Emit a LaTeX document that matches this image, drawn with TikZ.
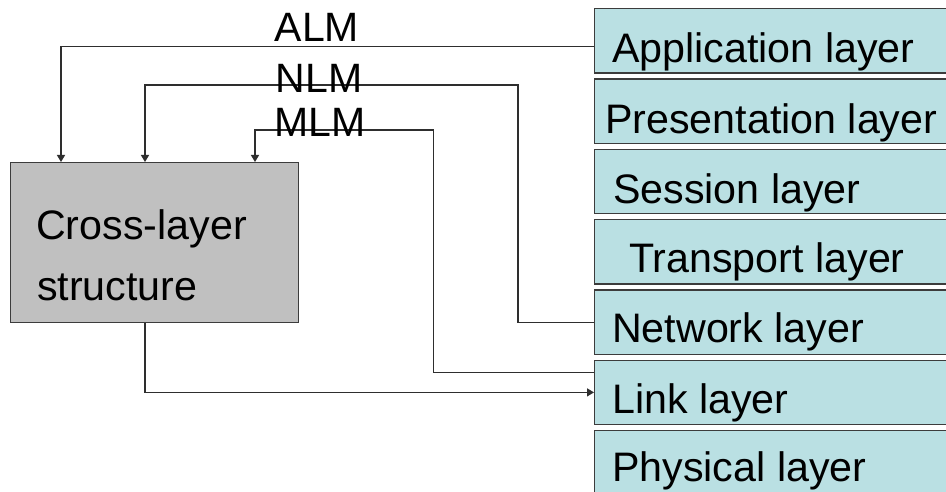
\documentclass[tikz,border=0pt]{standalone}
\usepackage{fontspec}
\setmainfont{Liberation Sans}
\usetikzlibrary{arrows.meta,calc}

\definecolor{layerfill}{HTML}{BAE0E3}
\definecolor{crossfill}{HTML}{C0C0C0}
\definecolor{edgegray}{HTML}{3C3C3C}
\definecolor{wiregray}{HTML}{2E2E2E}

\tikzset{
  layerbox/.style={draw=edgegray, line width=1.3pt, fill=layerfill,
    minimum width=380pt, minimum height=64.5pt, inner sep=0pt, anchor=north west},
  crossbox/.style={draw=edgegray, line width=1.4pt, fill=crossfill,
    minimum width=288pt, minimum height=160pt, inner sep=0pt, anchor=north west},
  txt/.style={inner sep=0pt, anchor=base west, font=\fontsize{41.2}{48}\selectfont},
  tag/.style={inner sep=0pt, anchor=base, font=\fontsize{41}{48}\selectfont},
  wire/.style={draw=wiregray, line width=1.2pt},
  wirearrow/.style={wire, -{Triangle[length=7pt,width=8pt]}}
}

\begin{document}
\begin{tikzpicture}[x=1pt,y=-1pt]
  \clip (0,0) rectangle (946,492);
  \fill[white] (0,0) rectangle (946,492);

  % protocol stack
  \node[layerbox] (app)   at (594,8.0)   {};
  \node[layerbox] (pres)  at (594,78.3)  {};
  \node[layerbox] (sess)  at (594,148.6) {};
  \node[layerbox] (trans) at (594,218.9) {};
  \node[layerbox] (net)   at (594,289.2) {};
  \node[layerbox] (link)  at (594,359.5) {};
  \node[layerbox] (phys)  at (594,429.8) {};

  \node[txt] (tapp)   at ([shift={(18,22)}]app.west)   {Application layer};
  \node[txt] (tpres)  at ([shift={(11,22.5)}]pres.west) {Presentation layer};
  \node[txt] (tsess)  at ([shift={(19,22)}]sess.west)  {Session layer};
  \node[txt] (ttrans) at ([shift={(35,21)}]trans.west) {Transport layer};
  \node[txt] (tnet)   at ([shift={(18,20.5)}]net.west)  {Network layer};
  \node[txt] (tlink)  at ([shift={(18,21)}]link.west)  {Link layer};
  \node[txt] (tphys)  at ([shift={(18,19)}]phys.west)  {Physical layer};

  % cross-layer block
  \node[crossbox] (cross) at (9.6,162) {};
  \node[txt] (tcross1) at (36,240) {Cross-layer};
  \node[txt] (tcross2) at (37,300) {structure};

  % management links
  \draw[wirearrow] ([yshift=-6pt]app.west) -| ($(cross.north west)+(51.4,0)$);
  \draw[wirearrow] (net.west) -| (518,85) -| ($(cross.north west)+(135.4,0)$);
  \draw[wirearrow] ([yshift=19.8pt]link.west) -| (433.5,130) -| ($(cross.north west)+(245.4,0)$);
  \draw[wirearrow] ($(cross.south west)+(135.4,0)$) |- (link.west);

  \node[tag] (alm) at (317,42)  {ALM};
  \node[tag] (nlm) at (319,93)  {NLM};
  \node[tag] (mlm) at (320,137) {MLM};
\end{tikzpicture}
\end{document}
